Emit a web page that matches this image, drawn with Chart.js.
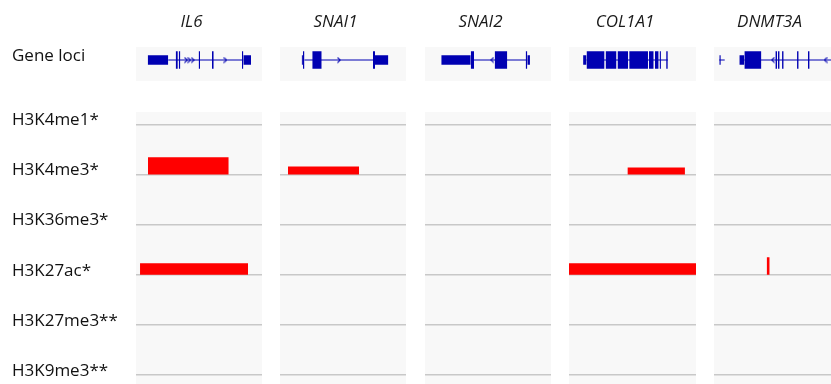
<!DOCTYPE html>
<html>
<head>
<meta charset="utf-8">
<script src="https://cdn.jsdelivr.net/npm/chart.js@4.4.1/dist/chart.umd.min.js"></script>
<style>
  body { margin: 0; width: 831px; height: 384px; overflow: hidden; background: #fff; position: relative; }
  .col { position: absolute; top: 0; height: 384px; }
</style>
</head>
<body>
<div class="col" style="left:0px;width:136px"><canvas id="labels"></canvas></div>
<div class="col" style="left:121px;width:141px"><canvas id="g0"></canvas></div>
<div class="col" style="left:265px;width:141px"><canvas id="g1"></canvas></div>
<div class="col" style="left:410px;width:141px"><canvas id="g2"></canvas></div>
<div class="col" style="left:554px;width:142px"><canvas id="g3"></canvas></div>
<div class="col" style="left:699px;width:141px"><canvas id="g4"></canvas></div>
<script>
// histone marks, top to bottom
var marks = ['H3K4me1*', 'H3K4me3*', 'H3K36me3*', 'H3K27ac*', 'H3K27me3**', 'H3K9me3**'];
var genes = ['IL6', 'SNAI1', 'SNAI2', 'COL1A1', 'DNMT3A'];
var strands = ['+', '+', '-', '+', '-'];

// gene models, positions in % of each locus window
var il6Introns = [[25.6, 85.2]];
var il6Exons = [[9.3, 25.6, 'utr'], [31.5, 33.2, 'cds'], [33.9, 35.2, 'cds'], [49.7, 50.8, 'cds'], [60.3, 61.7, 'cds'], [84.1, 85.2, 'cds'], [85.2, 91.3, 'utr']];
var il6Arrows = [39.7, 42.3, 45.0, 70.9];
var il6Peaks = [['H3K4me3*', 9.5, 73.6, 0.34], ['H3K27ac*', 3.2, 88.9, 0.23]];

var snai1Introns = [[19.4, 75.4]];
var snai1Exons = [[17.2, 18.2, 'utr'], [18.2, 19.4, 'cds'], [25.6, 33.1, 'cds'], [73.8, 75.4, 'cds'], [75.4, 86.0, 'utr']];
var snai1Arrows = [46.8];
var snai1Peaks = [['H3K4me3*', 6.3, 62.7, 0.16]];

var snai2Introns = [[38.9, 81.2]];
var snai2Exons = [[12.9, 36.3, 'utr'], [36.3, 38.9, 'cds'], [55.3, 65.3, 'cds'], [79.9, 81.2, 'cds'], [81.2, 83.3, 'utr']];
var snai2Arrows = [53.4];
var snai2Peaks = [];

var col1a1Introns = [[13.8, 77.8]];
var col1a1Exons = [[11.1, 13.8, 'utr'], [13.8, 28.0, 'cds'], [28.8, 37.4, 'cds'], [38.2, 46.6, 'cds'], [47.4, 62.2, 'cds'], [63.0, 66.7, 'cds'], [67.6, 70.6, 'cds'], [71.3, 72.4, 'cds'], [76.5, 77.8, 'cds']];
var col1a1Arrows = [];
var col1a1Peaks = [['H3K4me3*', 46.0, 91.3, 0.14], ['H3K27ac*', 0, 100, 0.23]];

var dnmt3aIntrons = [[4.2, 8.5], [24.1, 100]];
var dnmt3aExons = [[4.2, 5.4, 'utr'], [20.1, 24.1, 'utr'], [24.1, 37.6, 'cds'], [48.7, 50.0, 'cds'], [50.8, 52.1, 'cds'], [54.0, 55.3, 'cds'], [65.9, 67.2, 'cds'], [74.6, 75.9, 'cds']];
var dnmt3aArrows = [46.8, 88.6];
var dnmt3aPeaks = [['H3K27ac*', 41.8, 44.2, 0.35]];

var models = [
  [il6Introns, il6Exons, il6Arrows, il6Peaks],
  [snai1Introns, snai1Exons, snai1Arrows, snai1Peaks],
  [snai2Introns, snai2Exons, snai2Arrows, snai2Peaks],
  [col1a1Introns, col1a1Exons, col1a1Arrows, col1a1Peaks],
  [dnmt3aIntrons, dnmt3aExons, dnmt3aArrows, dnmt3aPeaks]
];

// layout of the y scale: track baselines at 5..0, gene row above them
var Y_MIN = -0.18, Y_MAX = 6.681;
var GENE_Y = 6.282;
var EXON_H = { utr: 0.19, cds: 0.35 };
var BLUE = '#0000b2', RED = '#ff0000', PANEL = '#f8f8f8';
var FONT = 'Open Sans';

// little strand arrow
var chevron = document.createElement('canvas');
chevron.width = 4; chevron.height = 7;
var cx = chevron.getContext('2d');
cx.strokeStyle = BLUE; cx.lineWidth = 1.1;
cx.beginPath(); cx.moveTo(0.5, 0.8); cx.lineTo(3.2, 3.5); cx.lineTo(0.5, 6.2); cx.stroke();

// grey panels behind the gene row and the tracks
var bands = {
  id: 'bands',
  beforeDraw: function (chart) {
    var ctx = chart.ctx, a = chart.chartArea, y = chart.scales.y;
    ctx.save();
    ctx.fillStyle = PANEL;
    [[6.542, 5.864], [5.245, Y_MIN]].forEach(function (b) {
      var y0 = y.getPixelForValue(b[0]), y1 = y.getPixelForValue(b[1]);
      ctx.fillRect(a.left, y0, a.right - a.left, y1 - y0);
    });
    ctx.restore();
  }
};

function buildDatasets(introns, exons, arrows, strand, peaks) {
  var ds = [];
  introns.forEach(function (s) {
    ds.push({ data: [{ x: s[0], y: GENE_Y }, { x: s[1], y: GENE_Y }], borderColor: BLUE, borderWidth: 1, pointRadius: 0, order: 2 });
  });
  exons.forEach(function (e) {
    var h = EXON_H[e[2]] / 2;
    ds.push({ data: [{ x: e[0], y: GENE_Y + h }, { x: e[1], y: GENE_Y + h }], borderWidth: 0, pointRadius: 0,
      backgroundColor: BLUE, fill: { value: GENE_Y - h }, order: 1 });
  });
  ds.push({ data: arrows.map(function (x) { return { x: x, y: GENE_Y }; }), showLine: false,
    pointStyle: chevron, pointRotation: strand === '-' ? 180 : 0, order: 0 });
  peaks.forEach(function (p) {
    var base = 5 - marks.indexOf(p[0]);
    ds.push({ data: [{ x: p[1], y: base + p[3] }, { x: p[2], y: base + p[3] }], borderWidth: 0, pointRadius: 0,
      backgroundColor: RED, fill: { value: base }, order: 0 });
  });
  return ds;
}

genes.forEach(function (name, i) {
  var m = models[i];
  new Chart(document.getElementById('g' + i), {
    type: 'line',
    data: { datasets: buildDatasets(m[0], m[1], m[2], strands[i], m[3]) },
    options: {
      responsive: true,
      maintainAspectRatio: false,
      animation: false,
      events: [],
      layout: { autoPadding: false },
      plugins: {
        legend: { display: false },
        tooltip: { enabled: false },
        title: {
          display: true, text: name, color: '#1a1a1a',
          font: { family: FONT, size: 17, style: 'italic', weight: 'normal' },
          padding: { top: 12, bottom: 7.6 }
        }
      },
      scales: {
        x: { type: 'linear', min: 0, max: 100, display: false },
        y: {
          min: Y_MIN, max: Y_MAX,
          afterBuildTicks: function (s) { s.ticks = marks.map(function (mk, k) { return { value: 5 - k }; }); },
          afterFit: function (s) { s.width = 15; s.paddingTop = 0; s.paddingBottom = 0; },
          ticks: { display: false },
          border: { display: false },
          grid: { color: '#c8c8c8', lineWidth: 1.5, drawTicks: false }
        }
      }
    },
    plugins: [bands]
  });
});

// row names on the left
new Chart(document.getElementById('labels'), {
  type: 'line',
  data: { datasets: [] },
  options: {
    responsive: true,
    maintainAspectRatio: false,
    animation: false,
    events: [],
    layout: { autoPadding: false, padding: { left: 12, top: 40 } },
    plugins: { legend: { display: false }, tooltip: { enabled: false } },
    scales: {
      x: { type: 'linear', min: 0, max: 1, display: false },
      y: {
        min: Y_MIN, max: Y_MAX,
        afterBuildTicks: function (s) {
          s.ticks = marks.map(function (mk, k) { return { value: 5 - k }; }).concat([{ value: GENE_Y }]);
        },
        afterFit: function (s) { s.width = 120; s.paddingTop = 0; s.paddingBottom = 0; },
        border: { display: false },
        grid: { display: false },
        ticks: {
          autoSkip: false, crossAlign: 'far', labelOffset: -4, color: '#111',
          font: { family: FONT, size: 17 },
          callback: function (v) { return v === GENE_Y ? 'Gene loci' : marks[5 - v]; }
        }
      }
    }
  }
});
</script>
</body>
</html>
